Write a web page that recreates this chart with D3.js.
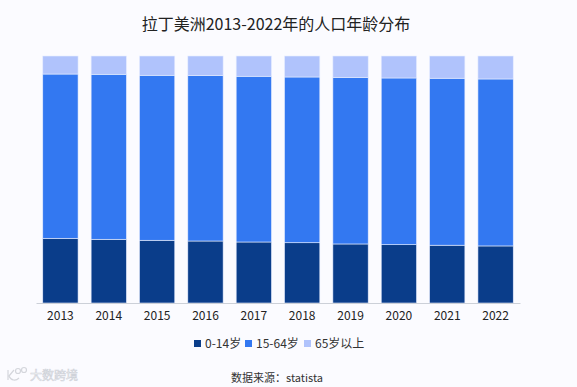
<!DOCTYPE html>
<html><head><meta charset="utf-8">
<script src="https://cdn.jsdelivr.net/npm/d3@7"></script>
<style>html,body{margin:0;padding:0;background:#fbfbff}svg{display:block}text{font-family:"Noto Sans CJK SC","Noto Sans",sans-serif}</style>
</head><body><svg id="c" width="577" height="387"></svg>
<script>
const years=["2013","2014","2015","2016","2017","2018","2019","2020","2021","2022"];
const young=[26.2,25.8,25.4,25.1,24.7,24.4,23.9,23.6,23.4,23.1];
const old=[7.3,7.4,7.8,7.9,8.2,8.5,8.7,8.9,9.0,9.3];
const working=young.map((v,i)=>+(100-v-old[i]).toFixed(1));
const seriesNames=["0-14岁","15-64岁","65岁以上"];
const colors=["#0a3d8a","#3378f1","#b0c3fc"];
const svg=d3.select("#c");
const m={l:36,r:57,t:56,b:84};
const x=d3.scaleBand().domain(years).range([m.l,577-m.r]).paddingInner(0.27).paddingOuter(0.14);
const y=d3.scaleLinear().domain([0,100]).range([387-m.b,m.t]);
const rows=years.map((d,i)=>({year:d,a:young[i],b:working[i],c:old[i]}));
const stack=d3.stack().keys(["a","b","c"])(rows);
svg.append("g").selectAll("g").data(stack).join("g").attr("fill",(d,i)=>colors[i])
 .selectAll("rect").data(d=>d).join("rect")
 .attr("x",d=>x(d.data.year)).attr("width",x.bandwidth())
 .attr("y",d=>y(d[1])).attr("height",d=>y(d[0])-y(d[1]))
 .attr("stroke","#e6edff").attr("stroke-width",0.6);
const ax=svg.append("g").attr("transform",`translate(0,${387-m.b})`).call(d3.axisBottom(x).tickSize(0).tickPadding(8));
ax.select(".domain").attr("stroke","#ccd0d8").attr("stroke-width",1);
ax.selectAll("text").attr("font-size",12).attr("fill","#222").style("font-family",'"Noto Sans CJK SC"');
svg.append("text").attr("x",276).attr("y",30).attr("text-anchor","middle").attr("font-size",16).attr("fill","#222").text("拉丁美洲2013-2022年的人口年龄分布");
const lx=[194,245,304];
const lg=svg.append("g").selectAll("g").data(seriesNames).join("g").attr("transform",(d,i)=>`translate(${lx[i]},345)`);
lg.append("rect").attr("y",-5).attr("width",7).attr("height",7).attr("fill",(d,i)=>colors[i]);
lg.append("text").attr("x",11).attr("y",3).attr("font-size",12).attr("fill","#333").text(d=>d);
svg.append("text").attr("x",231).attr("y",382).attr("font-size",11).attr("fill","#333").text("数据来源：statista");
const wm=svg.append("g").attr("fill","none").attr("stroke","#d4d6dc").attr("stroke-width",1.2);
wm.append("path").attr("d","M8 370V380M9 376L14 370M9 376C11 381 16 381 19 378");
wm.append("circle").attr("cx",18).attr("cy",371).attr("r",2.5);
wm.append("circle").attr("cx",24).attr("cy",370).attr("r",2.5);
svg.append("text").attr("x",30).attr("y",380).attr("font-size",12).attr("fill","#fff").attr("stroke","#cfd2d9").attr("stroke-width",0.6).text("大数跨境");
</script></body></html>
